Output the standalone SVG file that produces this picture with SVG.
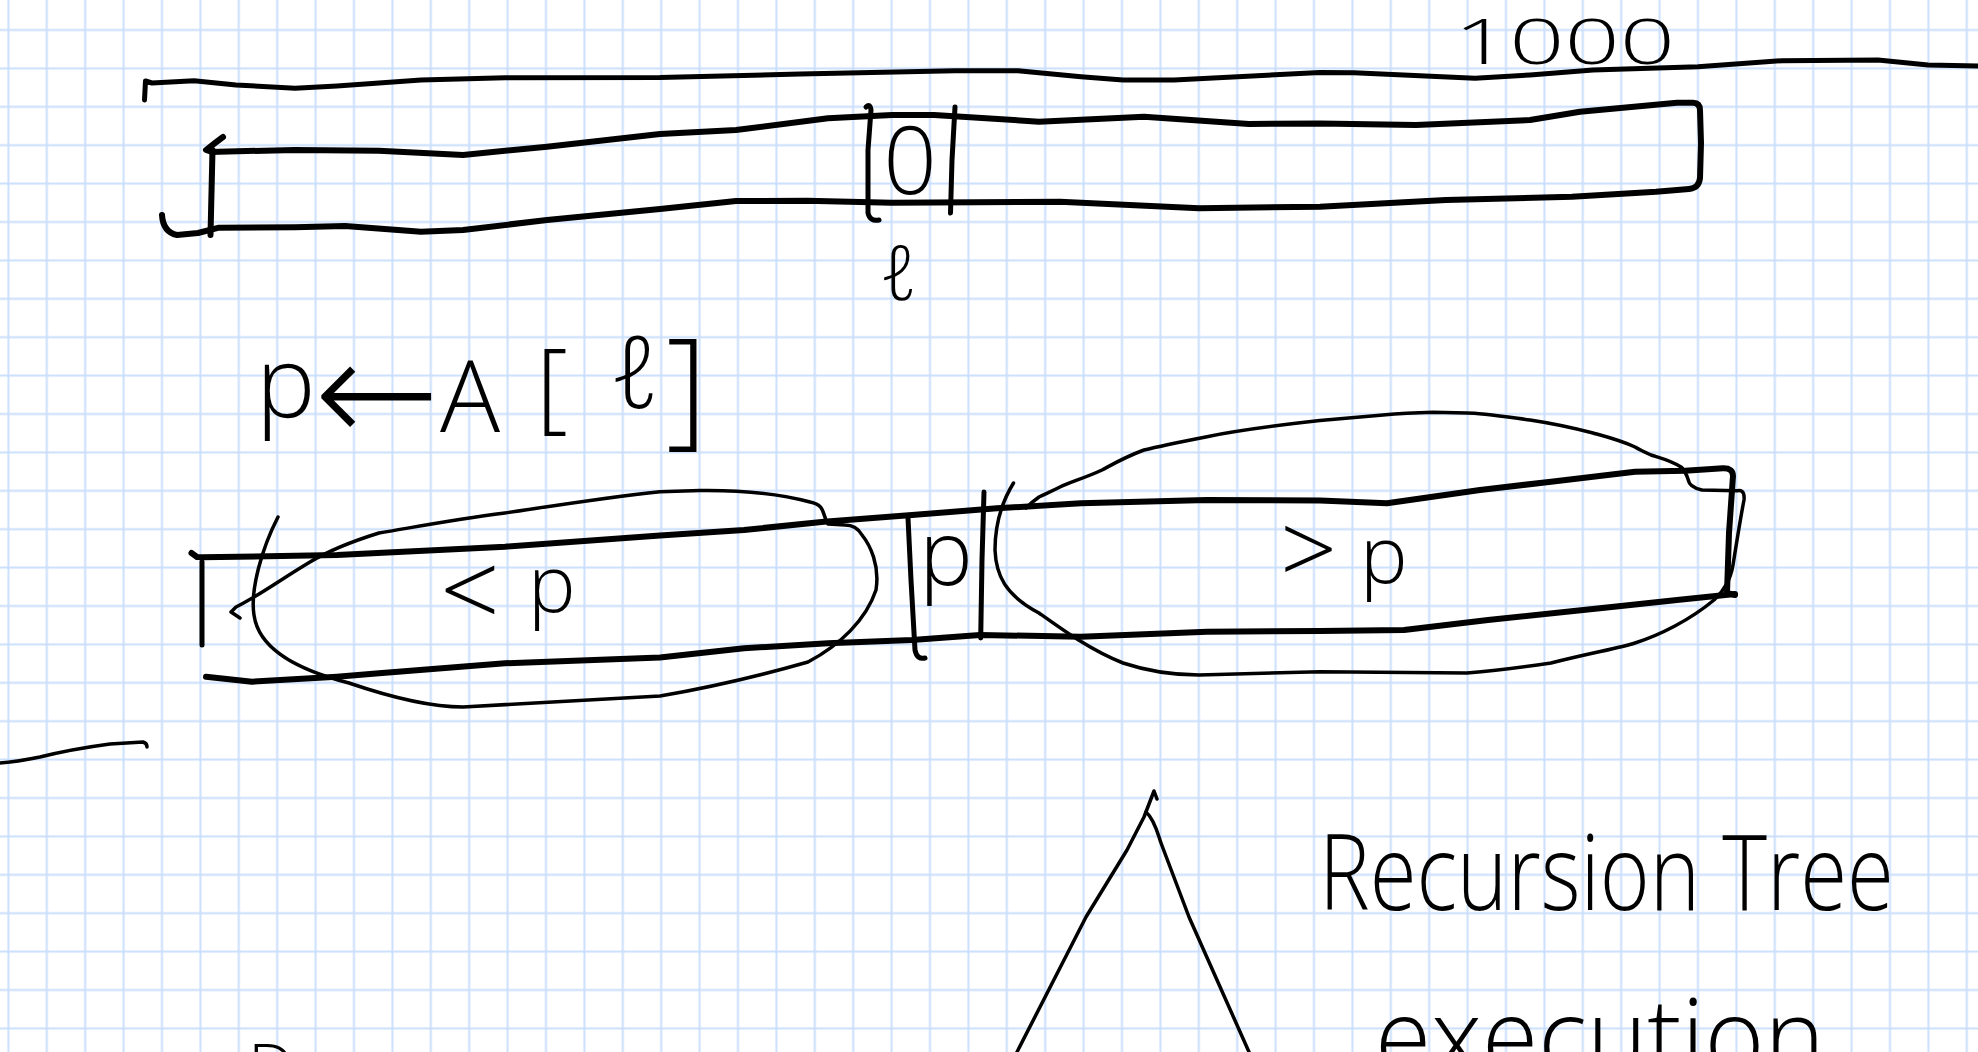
<svg xmlns="http://www.w3.org/2000/svg" width="1978" height="1052" viewBox="0 0 1978 1052">
<defs>
<pattern id="grid" width="38.4" height="38.4" patternUnits="userSpaceOnUse" x="-10.8" y="10.8">
<path d="M19.2,0V38.4M0,19.2H38.4" stroke="#cadefc" stroke-width="2" fill="none"/>
</pattern>
<style>
.ink{fill:none;stroke:#000;stroke-linecap:round;stroke-linejoin:round}
.thick{stroke-width:6}
.mid{stroke-width:5}
.thin{stroke-width:3.5}
.hand{font-family:'Open Sans','DejaVu Sans',sans-serif;font-weight:300;fill:#000}
</style>
</defs>
<rect width="1978" height="1052" fill="#fff"/>
<rect width="1978" height="1052" fill="url(#grid)"/>

<g id="connectors">
<path id="top-line" class="ink mid" d="M144.5,100 L145.5,81 L152,83 L194,80.7 L236,85 L295,88.3 L337,86 L421,80 L505,77.7 L660,77.5 L800,74 L955,70.7 L1018,70.7 L1081,76.7 L1123,80 L1174,80 L1320,72.5 L1354,72.7 L1475,78.3 L1530,75 L1593,70 L1698,66.7 L1782,60.7 L1878,60 L1928,65 L1978,66"/>
<path id="left-dash" class="ink thin" d="M0,763 C15,762 25,760 40,757 C60,752 80,748 110,744 L143,742 Q147,743 147,747"/>
</g>

<g id="array-top">
<path class="ink thick" d="M223,137 L215,143 L206,150 L212,152 L219,151.7 L295,150 L379,150.7 L463,155 L547,146.7 L660,134 L736,130 L828,118.3 L892,115 L934,115 L1039,121.7 L1144,116.7 L1249,124 L1320,123.5 L1416,125 L1530,120 L1580,111.7 L1677,102.7 L1693,102.7 Q1700,103 1700,110 L1701,143 L1700,178 Q1699,188 1689,189 L1656,191.7 L1572,196.7 L1446,200 L1320,206.7 L1199,208.3 L1060,201.7 L891.5,202.7 L807,200.7 L736,201 L660,209 L547,220 L463,230 L421,231.7 L345,226 L295,227.3 L219,227.7 L198,233 L177,235 Q163,232 162,215"/>
<path class="ink thick" d="M212.5,150 L210.5,235"/>
<path class="ink mid" d="M866,107 Q870,103 871,110 L868,150 L868,213 Q870,222 879,220"/>
<path class="ink mid" d="M955,107 L952,160 L950.5,213"/>
<text class="hand" x="910" y="194" font-size="94" text-anchor="middle">0</text>
<text class="hand" x="899" y="300" font-size="76" text-anchor="middle">ℓ</text>
</g>

<g id="label-1000">
<text class="hand" x="1454" y="64" font-size="62" textLength="221" lengthAdjust="spacingAndGlyphs">1000</text>
</g>

<g id="pivot-assign">
<text class="hand" font-size="100" y="425"><tspan x="256" y="418">p</tspan><tspan x="314" y="444" font-size="150">←</tspan><tspan x="440" y="432">A</tspan><tspan x="536" y="420">[</tspan><tspan x="610" y="408">ℓ</tspan><tspan x="666" y="432" font-size="130">]</tspan></text>
</g>

<g id="array-bottom">
<path class="ink thick" d="M191.5,553 L197,557 L202,557.3 L337,555 L505,546.7 L660,535.5 L744,530 L824,521.7 L912,515 L997,508.3 L1081,503.3 L1207,500 L1320,500.5 L1387,503.3 L1480,490 L1551,481.7 L1635,471.7 L1685,470.7 L1723,468.3 Q1733,468 1733,476 L1729,533 L1727,593 L1735,595"/>
<path class="ink thick" d="M1735,594 L1677,600 L1614,606.7 L1488,620 L1404,630 L1320,631 L1207,631.7 L1081,636.7 L980,635 L912,640 L828,643.3 L744,648.3 L660,657.5 L505,663.3 L379,673.3 L337,676.7 L252,681.7 L206,676.7"/>
<path class="ink mid" d="M202,561.7 L202,645"/>
<path class="ink mid" d="M908,518 L911,580 L915,650 Q917,660 925,658"/>
<path class="ink mid" d="M984,492 L982,560 L980.7,638"/>
<text class="hand" x="946" y="585" font-size="90" text-anchor="middle">p</text>
</g>

<g id="part-less">
<path class="ink thin" d="M278,517 C262,548 250,590 254,615 C258,645 290,668 349,683 C390,697 430,707 463,707 L660,696 C730,684 780,670 808,662 C840,645 866,620 876,590 C880,565 870,545 862,535 C858,528 852,525 845,525 L828,524 C822,515 826,505 810,502 C780,494 740,490 700,490.5 L660,491.7 C600,498 540,508 505,513 C450,520 410,528 379,533 C350,542 330,550 310,562 C280,580 255,598 236,607 L231,612 L240,618"/>
<text class="hand" y="620" font-size="80"><tspan x="440" y="628" font-size="105">&lt;</tspan><tspan x="528" y="612">p</tspan></text>
</g>

<g id="part-greater">
<path class="ink thin" d="M1013.5,483 C1000,505 995,530 995,550 C996,575 1005,595 1039,613 C1060,628 1090,650 1123,663 C1150,672 1180,675 1199,675 L1320,671.7 L1467,673 C1500,670 1530,666 1551,663 C1590,653 1620,648 1635,643 C1660,635 1690,620 1714,600 C1725,590 1731,577 1733,565 C1737,540 1742,510 1744,500 C1745,490 1740,490 1737,490.7 L1702,490 C1692,488 1689,483 1689,482 C1686,472 1682,467 1681,467 C1670,460 1660,458 1651,455 C1640,450 1635,447 1635,447 C1620,440 1600,435 1593,433 C1570,427 1550,423 1530,420 C1500,416 1480,413 1467,413 L1433,412.3 C1410,413 1395,414 1383,415 L1320,420.5 C1280,425 1240,430 1207,436.7 C1180,442 1160,446 1144,450 C1125,457 1115,463 1102,470 C1085,478 1070,482 1060,487 C1050,492 1045,494 1039,497 C1032,502 1028,506 1026,508"/>
<text class="hand" y="585" font-size="80"><tspan x="1280" y="585" font-size="100">&gt;</tspan><tspan x="1360" y="583">p</tspan></text>
</g>

<g id="recursion-tree">
<path class="ink thin" d="M1017,1052 L1086,917 L1127,850 L1144,817 L1154,791 L1157,799"/>
<path class="ink thin" d="M1146,812 C1155,820 1158,835 1161,843 L1189,917 L1249,1052"/>
<text class="hand" x="1319" y="910" font-size="105" textLength="575" lengthAdjust="spacingAndGlyphs">Recursion Tree</text>
<text class="hand" x="1375" y="1074" font-size="105" textLength="450" lengthAdjust="spacingAndGlyphs">execution</text>
<text class="hand" x="248" y="1092" font-size="66">D</text>
</g>
</svg>
